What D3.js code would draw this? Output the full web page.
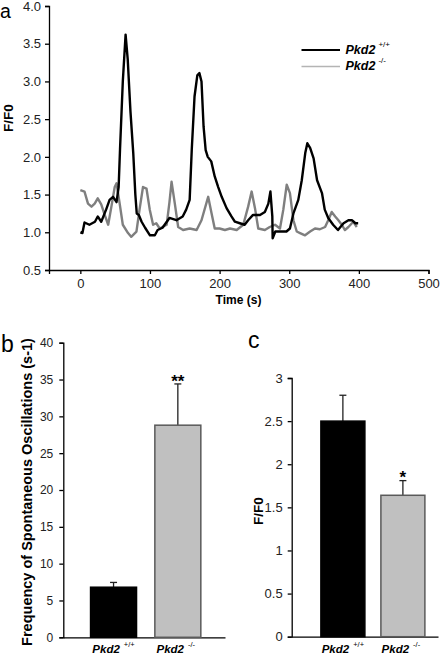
<!DOCTYPE html>
<html><head><meta charset="utf-8">
<script src="https://cdn.jsdelivr.net/npm/d3@7"></script>
<style>
body{margin:0;background:#fff;}
text{font-family:Arial,"Liberation Sans",sans-serif;}
</style></head>
<body><svg id="c" width="440" height="655"></svg>
<script>
// ---------- Panel a data ----------
const wtTime = [0,3,6,13,21,25,30,37,42,47,52,55,57,61,65,68,72,76,79,81,84,88,93,100,107,111,118,128,138,147,152,157,160,164,168,171,174,177,180,183,188,193,198,203,210,217,222,229,236,241,248,258,265,270,273,275.7,276.2,280,287,296,301,306,313,318,323,326,330,335,340,347,351,356,363,370,378,385,390,395,399];
const wtF    = [1.0,0.99,1.13,1.1,1.14,1.21,1.14,1.3,1.43,1.47,1.4,1.6,2.1,3.0,3.62,3.3,2.6,2.05,1.5,1.25,1.23,1.14,1.06,0.96,0.96,1.03,1.06,1.19,1.16,1.21,1.3,1.43,2.09,2.8,3.08,3.11,3.0,2.4,2.09,2.0,1.94,1.74,1.6,1.47,1.32,1.21,1.14,1.12,1.1,1.16,1.23,1.23,1.27,1.38,1.54,1.21,0.92,1.01,1.01,1.01,1.05,1.25,1.43,1.69,2.05,2.18,2.12,1.98,1.69,1.52,1.3,1.19,1.1,1.03,1.12,1.16,1.16,1.12,1.12];
const koTime = [0,6,11,16,20.6,25,30,35,40,44.6,49.4,52,56.5,61,68.5,73,80.6,85,90,95,99.7,104.5,109,114,124,128,131,135.7,140.5,147.6,157,167,174,183.6,188.5,193,200,207.6,215,224.5,234,241,246,250.8,255.5,265,272,279.6,286.7,291.5,296.4,301,306,310.8,315.5,322.7,330,337,344,351.5,356,361,366,370.6,375.5,380,385,392,397];
const koF    = [1.56,1.54,1.38,1.34,1.38,1.45,1.37,1.23,1.1,1.34,1.6,1.65,1.38,1.1,0.99,0.94,1.01,1.3,1.6,1.58,1.3,1.1,1.12,1.05,1.1,1.4,1.67,1.38,1.07,1.03,1.05,1.03,1.16,1.47,1.25,1.05,1.05,1.03,1.05,1.03,1.1,1.34,1.54,1.32,1.05,1.03,1.07,1.1,1.05,1.3,1.63,1.52,1.16,1.01,0.99,0.96,1.01,1.05,1.04,1.07,1.16,1.27,1.21,1.16,1.1,1.03,1.07,1.14,1.07];
const aYTicks = [0.5,1.0,1.5,2.0,2.5,3.0,3.5,4.0];
const aXTicks = [0,100,200,300,400,500];

// ---------- Panel b / c data ----------
const genotypes = ["+/+","-/-"];
const freqMean = [6.8, 28.8];
const freqErr  = [0.65, 5.6];
const freqSig  = ["", "**"];
const bYTicks = [0,5,10,15,20,25,30,35,40];
const ampMean = [2.5, 1.64];
const ampErr  = [0.30, 0.17];
const ampSig  = ["", "*"];
const cYTicks = [0,0.5,1,1.5,2,2.5,3];
const barFill = ["#000000","#c0c0c0"];

const svg = d3.select("#c");

// ================= Panel a =================
const xA = d3.scaleLinear().domain([-45,500]).range([49,428.5]);
const yA = d3.scaleLinear().domain([0.5,4]).range([270,6]);
const gA = svg.append("g");
gA.append("g").attr("transform","translate(49,0)")
  .call(d3.axisLeft(yA).tickValues(aYTicks).tickFormat(d3.format(".1f")).tickSize(4).tickPadding(4))
  .call(g=>g.selectAll("text").attr("font-size",13).attr("font-family","Arial, Liberation Sans").attr("fill","#222"));
gA.append("g").attr("transform","translate(0,270)")
  .call(d3.axisBottom(xA).tickValues(aXTicks).tickSize(4).tickPadding(5))
  .call(g=>g.selectAll("text").attr("font-size",13).attr("font-family","Arial, Liberation Sans").attr("fill","#222"));
gA.selectAll(".domain, .tick line").attr("stroke","#000").attr("stroke-width",1.3);

const lineA = d3.line().x(d=>xA(d[0])).y(d=>yA(d[1]));
gA.append("path").datum(d3.zip(koTime,koF)).attr("d",lineA)
  .attr("fill","none").attr("stroke","#7f7f7f").attr("stroke-width",2.4).attr("stroke-linejoin","round");
gA.append("path").datum(d3.zip(wtTime,wtF)).attr("d",lineA)
  .attr("fill","none").attr("stroke","#000").attr("stroke-width",2.4).attr("stroke-linejoin","round");

gA.append("text").attr("x",238.5).attr("y",304).attr("text-anchor","middle")
  .attr("font-size",12).attr("font-weight","bold").text("Time (s)");
gA.append("text").attr("transform","translate(13,118) rotate(-90)").attr("text-anchor","middle")
  .attr("font-size",13.5).attr("font-weight","bold").text("F/F0");
svg.append("text").attr("x",0).attr("y",18).attr("font-size",19.5).text("a");

// legend
const leg = svg.append("g");
const legItems = [{g:"+/+",c:"#000",w:2.2,y:50},{g:"-/-",c:"#b4b4b4",w:1.6,y:66.5}];
legItems.forEach(it=>{
  leg.append("line").attr("x1",301.5).attr("x2",340).attr("y1",it.y).attr("y2",it.y)
    .attr("stroke",it.c).attr("stroke-width",it.w);
  const t = leg.append("text").attr("x",345.5).attr("y",it.y+3.5)
    .attr("font-size",12.5).attr("font-weight","bold").attr("font-style","italic");
  t.append("tspan").text("Pkd2");
  t.append("tspan").attr("dx",3).attr("dy",-7).attr("font-size",8).attr("font-style","normal").attr("font-weight","normal").text(it.g);
});

// ================= bar panel helper =================
function barPanel(opt){
  const g = svg.append("g");
  const y = d3.scaleLinear().domain(opt.ydom).range([opt.y0,opt.y1]);
  const x = d3.scaleBand().domain(genotypes).range([opt.x0,opt.x1])
    .paddingInner(opt.pi).paddingOuter(opt.po).align(opt.align);
  g.append("g").attr("transform",`translate(${opt.x0},0)`)
    .call(d3.axisLeft(y).tickValues(opt.ticks).tickFormat(d=>String(d)).tickSize(4).tickPadding(opt.tp))
    .call(a=>a.selectAll("text").attr("font-size",opt.fs).attr("font-family","Arial, Liberation Sans").attr("fill","#222"));
  g.append("g").attr("transform",`translate(0,${opt.y0})`)
    .call(d3.axisBottom(x).tickSize(0).tickFormat(""));
  g.selectAll(".domain, .tick line").attr("stroke","#000").attr("stroke-width",1.3);

  // error bars
  genotypes.forEach((k,i)=>{
    const cx = x(k)+x.bandwidth()/2;
    const top = y(opt.mean[i]+opt.err[i]);
    g.append("line").attr("x1",cx).attr("x2",cx).attr("y1",y(opt.mean[i])).attr("y2",top)
      .attr("stroke","#222").attr("stroke-width",1.3);
    g.append("line").attr("x1",cx-3.5).attr("x2",cx+3.5).attr("y1",top).attr("y2",top)
      .attr("stroke","#222").attr("stroke-width",1.3);
    if(opt.sig[i]) g.append("text").attr("x",cx).attr("y",top+opt.sigdy).attr("text-anchor","middle")
      .attr("font-size",17).attr("font-weight","bold").text(opt.sig[i]);
  });
  g.selectAll("rect.bar").data(genotypes).join("rect").attr("class","bar")
    .attr("x",d=>x(d)).attr("width",x.bandwidth())
    .attr("y",(d,i)=>y(opt.mean[i])).attr("height",(d,i)=>y(0)-y(opt.mean[i]))
    .attr("fill",(d,i)=>barFill[i]).attr("stroke",(d,i)=>i?"#5a5a5a":"#000").attr("stroke-width",1.5);
  // category labels
  genotypes.forEach((k,i)=>{
    const cx = x(k)+x.bandwidth()/2 + opt.lx[i];
    const t = g.append("text").attr("x",cx).attr("y",opt.ly).attr("text-anchor","middle")
      .attr("font-size",11.5).attr("font-weight","bold").attr("font-style","italic");
    t.append("tspan").text("Pkd2");
    t.append("tspan").attr("dx",4).attr("dy",-6).attr("font-size",7.5).attr("font-style","normal").attr("font-weight","normal").text(k);
  });
  g.append("text").attr("transform",`translate(${opt.labx},${opt.laby}) rotate(-90)`).attr("text-anchor","middle")
    .attr("font-size",opt.labfs).attr("font-weight","bold").text(opt.label);
  svg.append("text").attr("x",opt.letx).attr("y",opt.lety).attr("font-size",23).text(opt.letter);
  return g;
}

barPanel({ydom:[0,40],y0:637.3,y1:342.7,x0:63.3,x1:225,pi:0.285,po:0.4,align:0.53,
  ticks:bYTicks,tp:6,fs:12,mean:freqMean,err:freqErr,sig:freqSig,sigdy:3,
  lx:[0,-2],ly:653,label:"Frequency of Spontaneous Oscillations (s-1)",labx:32,laby:492,labfs:14.5,
  letter:"b",letx:1,lety:352});
barPanel({ydom:[0,3],y0:636.7,y1:378,x0:291.7,x1:438,pi:0.267,po:0.3525,align:0.69,
  ticks:cYTicks,tp:5,fs:13,mean:ampMean,err:ampErr,sig:ampSig,sigdy:2,
  lx:[0,-2],ly:653,label:"F/F0",labx:263,laby:511,labfs:13.5,
  letter:"c",letx:248,lety:348});
</script></body></html>
